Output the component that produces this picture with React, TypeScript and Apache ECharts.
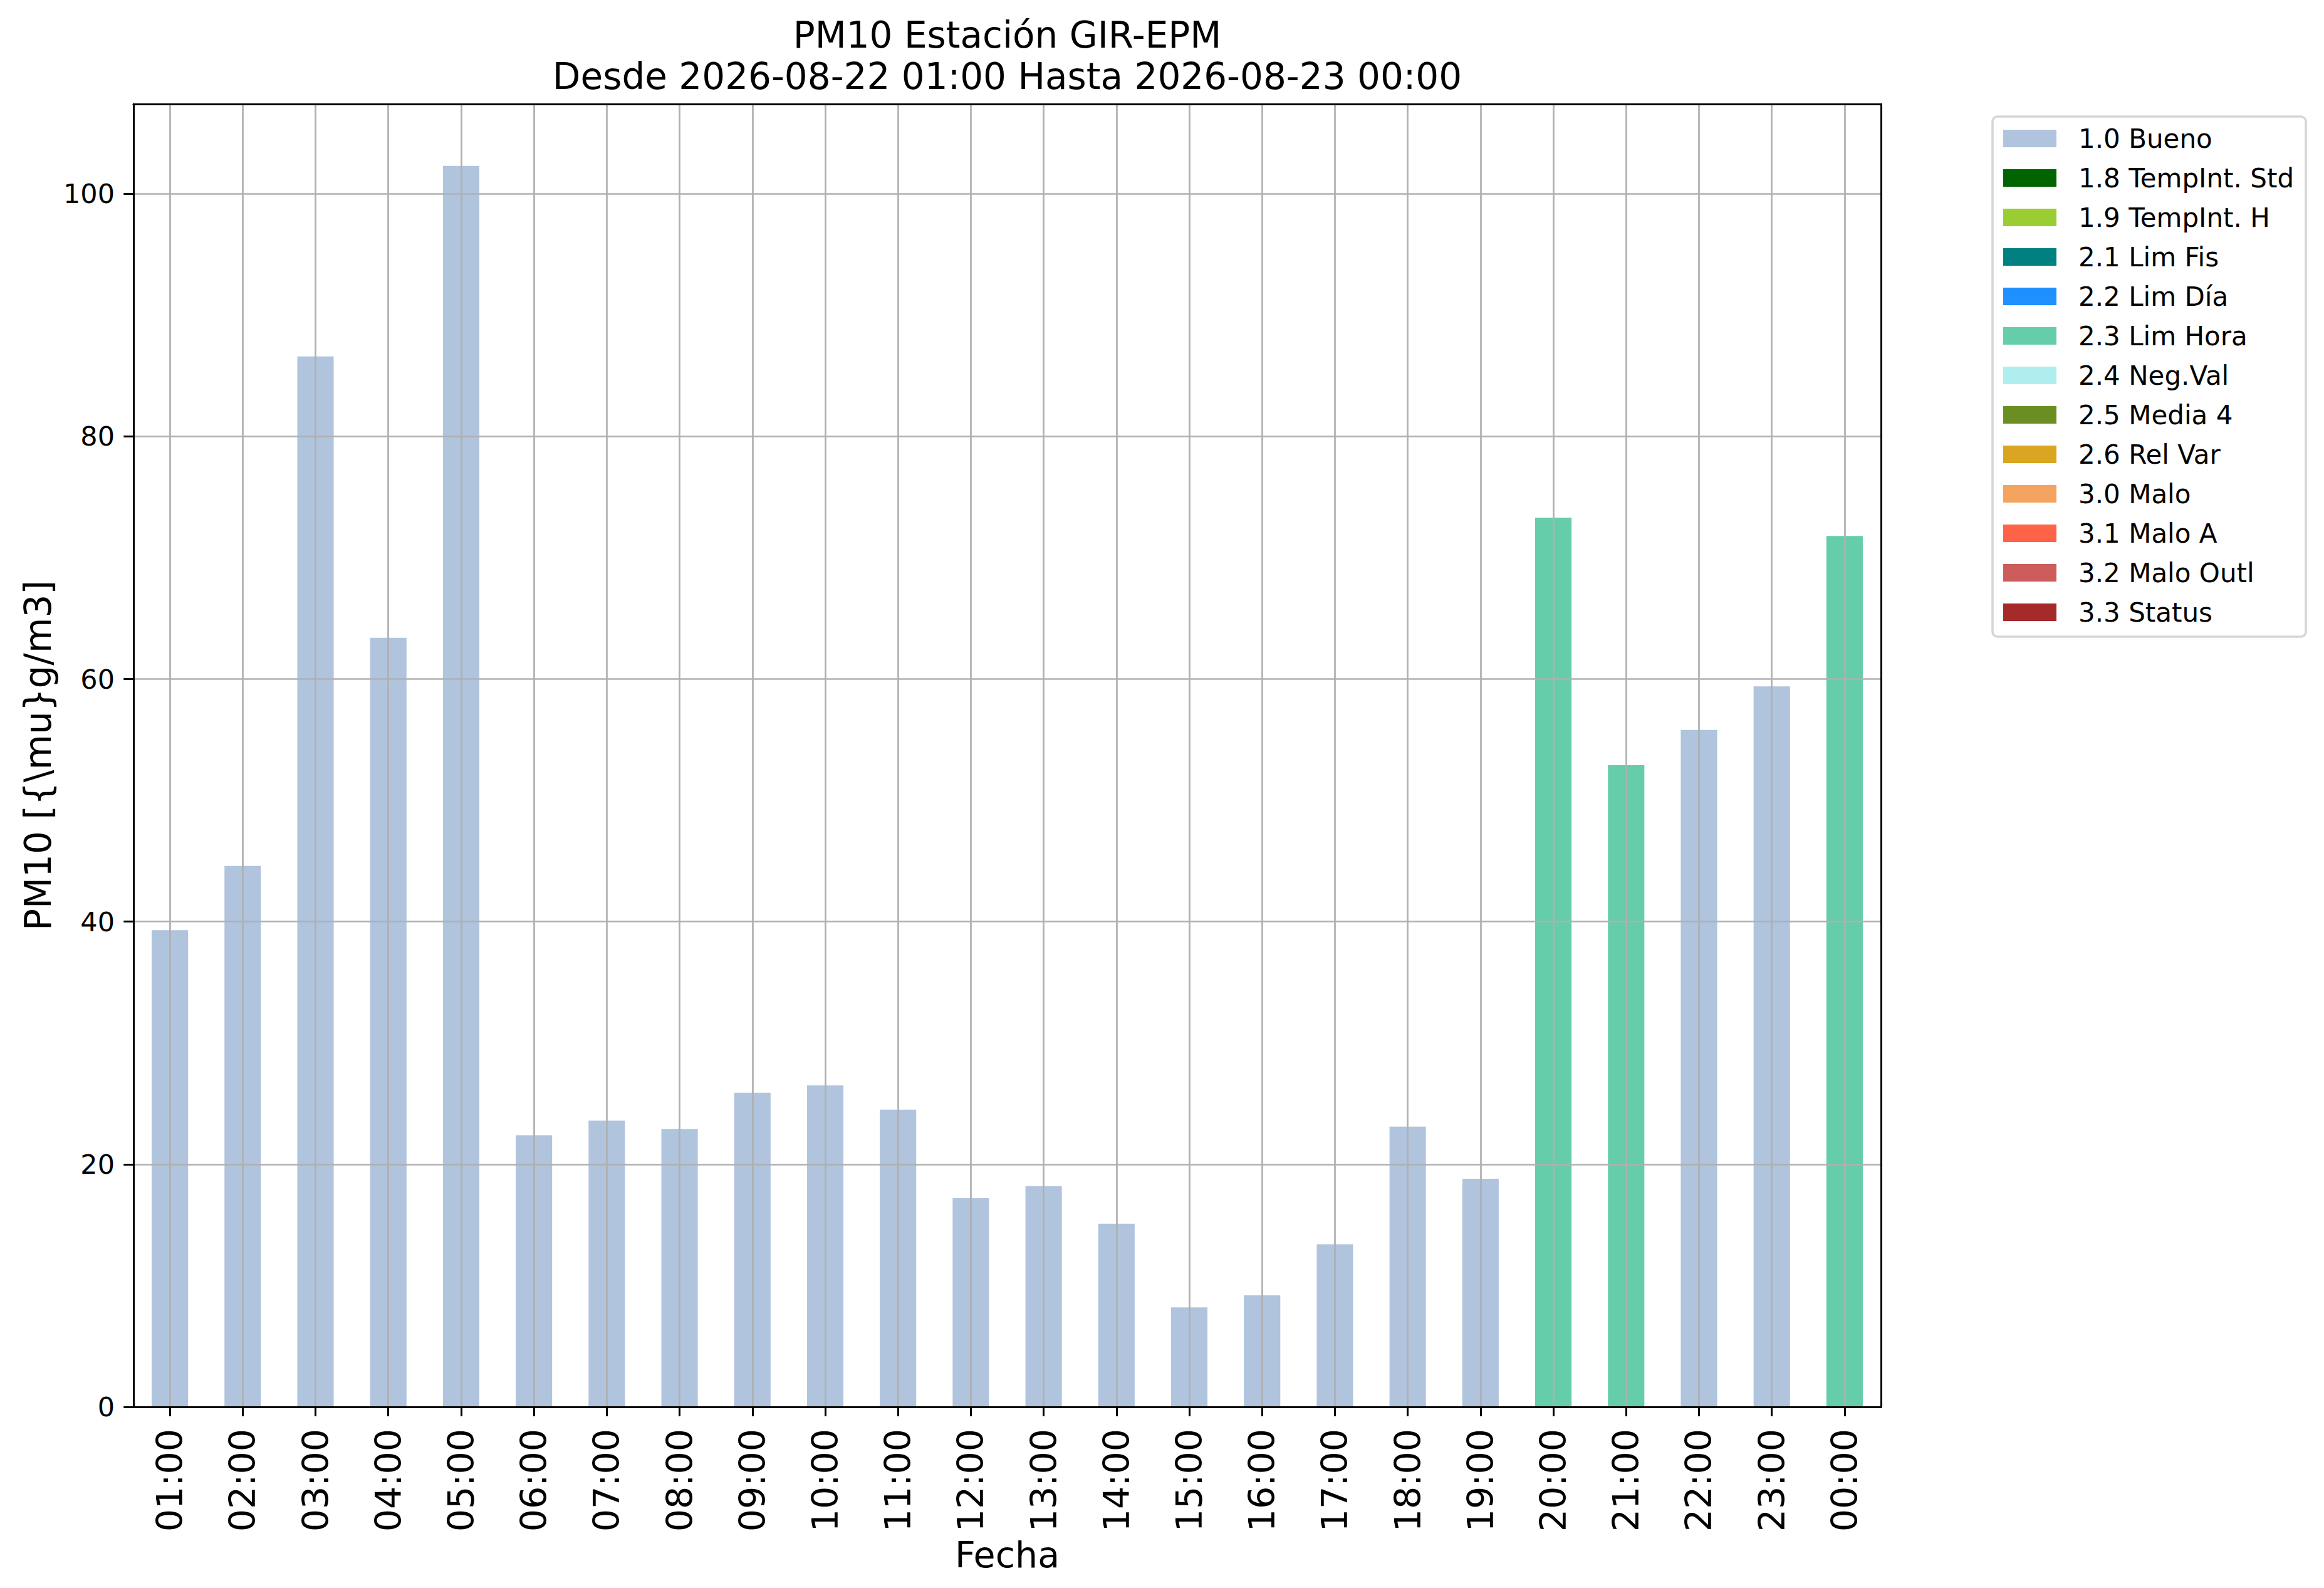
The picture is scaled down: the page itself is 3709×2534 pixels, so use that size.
import React, { useEffect, useRef } from "react";
import * as echarts from "echarts";

const hours = [
  "01:00", "02:00", "03:00", "04:00", "05:00", "06:00", "07:00", "08:00",
  "09:00", "10:00", "11:00", "12:00", "13:00", "14:00", "15:00", "16:00",
  "17:00", "18:00", "19:00", "20:00", "21:00", "22:00", "23:00", "00:00",
];

const pm10 = [
  39.3, 44.6, 86.6, 63.4, 102.3, 22.4, 23.6, 22.9, 25.9, 26.5, 24.5, 17.2,
  18.2, 15.1, 8.2, 9.2, 13.4, 23.1, 18.8, 73.3, 52.9, 55.8, 59.4, 71.8,
];

const flags = [
  "1.0 Bueno", "1.0 Bueno", "1.0 Bueno", "1.0 Bueno", "1.0 Bueno", "1.0 Bueno",
  "1.0 Bueno", "1.0 Bueno", "1.0 Bueno", "1.0 Bueno", "1.0 Bueno", "1.0 Bueno",
  "1.0 Bueno", "1.0 Bueno", "1.0 Bueno", "1.0 Bueno", "1.0 Bueno", "1.0 Bueno",
  "1.0 Bueno", "2.3 Lim Hora", "2.3 Lim Hora", "1.0 Bueno", "1.0 Bueno", "2.3 Lim Hora",
];

const categories = [
  "1.0 Bueno", "1.8 TempInt. Std", "1.9 TempInt. H", "2.1 Lim Fis", "2.2 Lim Día",
  "2.3 Lim Hora", "2.4 Neg.Val", "2.5 Media 4", "2.6 Rel Var", "3.0 Malo",
  "3.1 Malo A", "3.2 Malo Outl", "3.3 Status",
];

const categoryColors = [
  "#b0c4de", "#006400", "#9acd32", "#008080", "#1e90ff", "#66cdaa", "#afeeee",
  "#6b8e23", "#daa520", "#f4a460", "#ff6347", "#cd5c5c", "#a52a2a",
];

const yTicks = [0, 20, 40, 60, 80, 100];
const yMin = 0;
const yMax = 107.4;

const titleLine1 = "PM10 Estación GIR-EPM";
const titleLine2 = "Desde 2026-08-22 01:00 Hasta 2026-08-23 00:00";
const xName = "Fecha";
const yName = "PM10 [{\\mu}g/m3]";

const FONT = "DejaVu Sans";
const W = 3709;
const H = 2534;

function buildOption() {
  const series = categories.map((name, k) => ({
    type: "bar",
    name,
    stack: "total",
    barWidth: "50%",
    silent: true,
    itemStyle: { color: categoryColors[k] },
    data: pm10.map((v, i) => (flags[i] === name ? v : 0)),
  }));

  return {
    animation: false,
    backgroundColor: "#ffffff",
    textStyle: { fontFamily: FONT, color: "#000" },
    grid: { left: 213, top: 166, width: 2789, height: 2079, containLabel: false },
    graphic: [
      {
        type: "text",
        x: 1607.5,
        y: 56,
        style: {
          text: titleLine1,
          align: "center",
          verticalAlign: "middle",
          fontSize: 58,
          fontFamily: FONT,
          fill: "#000",
        },
      },
      {
        type: "text",
        x: 1607.5,
        y: 122,
        style: {
          text: titleLine2,
          align: "center",
          verticalAlign: "middle",
          fontSize: 58,
          fontFamily: FONT,
          fill: "#000",
        },
      },
    ],
    legend: {
      data: categories,
      orient: "vertical",
      left: 3180,
      top: 186,
      padding: [14, 19, 18, 17],
      itemGap: 21,
      itemWidth: 85,
      itemHeight: 28,
      icon: "rect",
      selectedMode: false,
      borderColor: "#d6d6d6",
      borderWidth: 3.6,
      borderRadius: 8,
      backgroundColor: "#ffffff",
      textStyle: {
        fontSize: 42,
        lineHeight: 42,
        color: "#000",
        fontFamily: FONT,
        padding: [0, 0, 0, 30],
      },
    },
    xAxis: [
      {
        type: "category",
        data: hours,
        position: "bottom",
        boundaryGap: true,
        z: 3,
        axisLine: { show: true, onZero: false, lineStyle: { color: "#000", width: 3 } },
        axisTick: { show: true, alignWithLabel: true, interval: 0, length: 15, lineStyle: { color: "#000", width: 3 } },
        axisLabel: { rotate: 90, interval: 0, fontSize: 57, margin: 35, color: "#000", fontFamily: FONT },
        splitLine: { show: true, alignWithLabel: true, interval: 0, lineStyle: { color: "#b0b0b0", width: 2.7 } },
        name: xName,
        nameLocation: "middle",
        nameGap: 192,
        nameTextStyle: { fontSize: 57, color: "#000", fontFamily: FONT },
      },
      {
        type: "category",
        data: hours,
        position: "top",
        boundaryGap: true,
        z: 3,
        axisLine: { show: true, onZero: false, lineStyle: { color: "#000", width: 3 } },
        axisTick: { show: false },
        axisLabel: { show: false },
        splitLine: { show: false },
      },
    ],
    yAxis: [
      {
        type: "value",
        min: yMin,
        max: yMax,
        interval: 20,
        z: 3,
        axisLine: { show: true, onZero: false, lineStyle: { color: "#000", width: 3 } },
        axisTick: { show: true, length: 15.7, customValues: yTicks, lineStyle: { color: "#000", width: 3 } },
        axisLabel: { fontSize: 43, margin: 30, color: "#000", fontFamily: FONT, customValues: yTicks },
        splitLine: { show: true, lineStyle: { color: "#b0b0b0", width: 2.7 } },
        name: yName,
        nameLocation: "middle",
        nameRotate: 90,
        nameGap: 123,
        nameTextStyle: { fontSize: 58, color: "#000", fontFamily: FONT },
      },
      {
        type: "value",
        min: yMin,
        max: yMax,
        position: "right",
        z: 3,
        axisLine: { show: true, onZero: false, lineStyle: { color: "#000", width: 3 } },
        axisTick: { show: false },
        axisLabel: { show: false },
        splitLine: { show: false },
      },
    ],
    series,
  };
}

export default function App() {
  const ref = useRef<HTMLDivElement>(null);
  useEffect(() => {
    if (!ref.current) return;
    const chart = echarts.init(ref.current, null, { renderer: "svg", width: W, height: H });
    chart.setOption(buildOption() as any);
    return () => chart.dispose();
  }, []);
  return (
    <div
      ref={ref}
      style={{ position: "fixed", left: 0, top: 0, width: W, height: H, background: "#fff" }}
    />
  );
}
